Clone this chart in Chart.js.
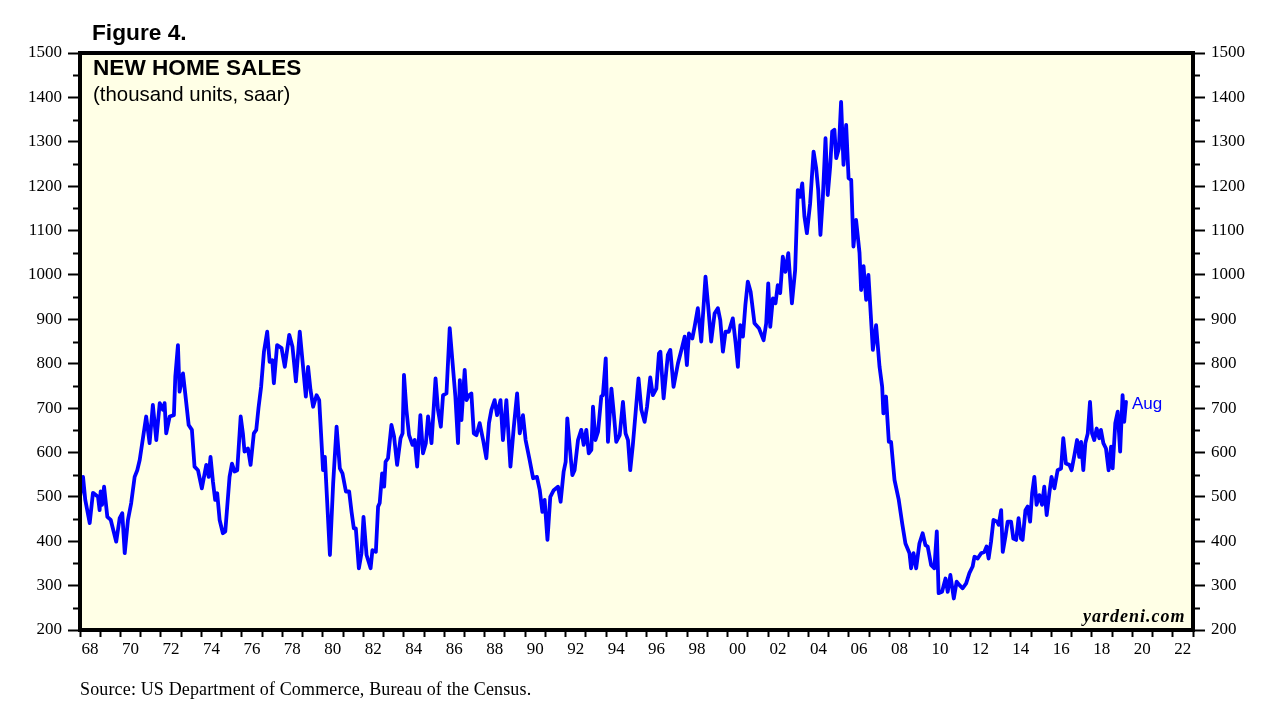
<!DOCTYPE html>
<html>
<head>
<meta charset="utf-8">
<title>New Home Sales</title>
<script src="https://cdn.jsdelivr.net/npm/chart.js@4.4.0/dist/chart.umd.min.js"></script>
<style>
    html, body { margin: 0; padding: 0; background: #ffffff; }
    #wrap { position: relative; width: 1277px; height: 704px; overflow: hidden; }
    #chart { position: absolute; left: 0; top: 0; }
    .txt { position: absolute; white-space: nowrap; line-height: 1; color: #000; }
    .sans { font-family: "Liberation Sans", Arial, sans-serif; }
    .serif { font-family: "Liberation Serif", "Times New Roman", serif; }
</style>
</head>
<body>
<div id="wrap">
    <canvas id="chart" width="1277" height="704"></canvas>
    <div class="txt sans" style="left:92px; top:21px; font-size:22.7px; font-weight:bold;">Figure 4.</div>
    <div class="txt sans" style="left:93px; top:57px; font-size:22.6px; font-weight:bold;">NEW HOME SALES</div>
    <div class="txt sans" style="left:93px; top:84px; font-size:20.4px;">(thousand units, saar)</div>
    <div class="txt sans" style="left:1132px; top:395px; font-size:17px; color:#0000ff;">Aug</div>
    <div class="txt serif" style="left:1083px; top:607px; font-size:18px; font-weight:bold; font-style:italic; letter-spacing:1px;">yardeni.com</div>
    <div class="txt serif" style="left:80px; top:680px; font-size:18px; letter-spacing:0.15px;">Source: US Department of Commerce, Bureau of the Census.</div>
</div>
<script>
// Monthly-ish readings: decimal year and thousand units (saar)
const saleDates = [
    1968.00, 1968.15, 1968.26, 1968.48, 1968.64, 1968.89, 1968.97, 1969.02, 1969.09, 1969.19,
    1969.35, 1969.52, 1969.79, 1969.96, 1970.09, 1970.21, 1970.37, 1970.53, 1970.70, 1970.83,
    1970.95, 1971.06, 1971.27, 1971.44, 1971.60, 1971.77, 1971.94, 1972.10, 1972.18, 1972.26,
    1972.43, 1972.64, 1972.71, 1972.84, 1972.92, 1973.09, 1973.20, 1973.37, 1973.53, 1973.66,
    1973.83, 1974.02, 1974.24, 1974.36, 1974.45, 1974.57, 1974.68, 1974.78, 1974.90, 1975.06,
    1975.18, 1975.39, 1975.51, 1975.64, 1975.77, 1975.94, 1976.05, 1976.13, 1976.30, 1976.43,
    1976.59, 1976.71, 1976.82, 1976.95, 1977.09, 1977.25, 1977.37, 1977.50, 1977.58, 1977.74,
    1977.96, 1978.12, 1978.34, 1978.50, 1978.67, 1978.86, 1979.00, 1979.16, 1979.27, 1979.39,
    1979.52, 1979.69, 1979.82, 1979.97, 1980.01, 1980.10, 1980.35, 1980.51, 1980.68, 1980.84,
    1980.97, 1981.14, 1981.30, 1981.42, 1981.53, 1981.63, 1981.78, 1981.91, 1982.01, 1982.16,
    1982.36, 1982.45, 1982.62, 1982.73, 1982.81, 1982.93, 1983.03, 1983.10, 1983.22, 1983.39,
    1983.52, 1983.67, 1983.84, 1983.94, 1984.01, 1984.13, 1984.26, 1984.43, 1984.54, 1984.66,
    1984.82, 1984.95, 1985.09, 1985.20, 1985.37, 1985.57, 1985.69, 1985.83, 1985.94, 1986.11,
    1986.27, 1986.40, 1986.55, 1986.68, 1986.77, 1986.85, 1987.01, 1987.10, 1987.22, 1987.34,
    1987.46, 1987.59, 1987.75, 1987.92, 1988.08, 1988.21, 1988.33, 1988.49, 1988.61, 1988.78,
    1988.90, 1989.07, 1989.27, 1989.43, 1989.60, 1989.73, 1989.89, 1990.02, 1990.22, 1990.39,
    1990.58, 1990.72, 1990.85, 1990.96, 1991.10, 1991.24, 1991.41, 1991.62, 1991.75, 1991.90,
    1992.00, 1992.08, 1992.20, 1992.33, 1992.44, 1992.61, 1992.77, 1992.89, 1993.02, 1993.14,
    1993.27, 1993.35, 1993.47, 1993.60, 1993.76, 1993.84, 1993.98, 1994.09, 1994.26, 1994.37,
    1994.50, 1994.67, 1994.83, 1994.96, 1995.08, 1995.19, 1995.32, 1995.46, 1995.60, 1995.74,
    1995.90, 1996.02, 1996.18, 1996.31, 1996.48, 1996.61, 1996.68, 1996.84, 1997.05, 1997.17,
    1997.33, 1997.55, 1997.76, 1997.88, 1997.99, 1998.09, 1998.26, 1998.37, 1998.53, 1998.70,
    1998.91, 1999.03, 1999.19, 1999.36, 1999.52, 1999.64, 1999.77, 1999.90, 2000.06, 2000.26,
    2000.40, 2000.51, 2000.63, 2000.76, 2000.88, 2001.00, 2001.14, 2001.33, 2001.55, 2001.78,
    2001.91, 2002.01, 2002.11, 2002.24, 2002.37, 2002.48, 2002.60, 2002.73, 2002.86, 2003.00,
    2003.18, 2003.34, 2003.47, 2003.59, 2003.69, 2003.80, 2003.92, 2004.08, 2004.25, 2004.38,
    2004.48, 2004.59, 2004.71, 2004.84, 2004.95, 2005.07, 2005.17, 2005.28, 2005.37, 2005.50,
    2005.61, 2005.73, 2005.86, 2005.98, 2006.11, 2006.22, 2006.35, 2006.52, 2006.60, 2006.72,
    2006.85, 2006.96, 2007.18, 2007.34, 2007.51, 2007.64, 2007.70, 2007.83, 2007.97, 2008.08,
    2008.25, 2008.46, 2008.63, 2008.79, 2008.99, 2009.07, 2009.19, 2009.32, 2009.48, 2009.64,
    2009.78, 2009.89, 2010.06, 2010.22, 2010.34, 2010.43, 2010.60, 2010.77, 2010.88, 2011.01,
    2011.18, 2011.32, 2011.46, 2011.62, 2011.79, 2011.95, 2012.11, 2012.20, 2012.36, 2012.53,
    2012.69, 2012.80, 2012.90, 2013.02, 2013.14, 2013.32, 2013.40, 2013.52, 2013.60, 2013.73,
    2013.84, 2014.01, 2014.12, 2014.26, 2014.38, 2014.50, 2014.58, 2014.72, 2014.83, 2014.95,
    2015.05, 2015.16, 2015.27, 2015.41, 2015.54, 2015.65, 2015.77, 2015.90, 2016.01, 2016.15,
    2016.31, 2016.48, 2016.59, 2016.72, 2016.89, 2017.00, 2017.14, 2017.27, 2017.38, 2017.47,
    2017.58, 2017.68, 2017.80, 2017.91, 2018.01, 2018.12, 2018.24, 2018.37, 2018.45, 2018.57,
    2018.70, 2018.83, 2018.95, 2019.03, 2019.16, 2019.28, 2019.40, 2019.52, 2019.60, 2019.69
];

const salesValues = [
    500, 545, 493, 441, 509, 500, 470, 512, 482, 523,
    455, 448, 399, 452, 463, 373, 448, 486, 545, 560,
    583, 617, 681, 621, 707, 628, 711, 696, 711, 643,
    681, 684, 771, 842, 737, 778, 733, 662, 651, 568,
    560, 519, 572, 545, 590, 534, 493, 508, 448, 418,
    422, 545, 575, 557, 560, 681, 643, 602, 609, 572,
    643, 651, 700, 748, 827, 872, 804, 808, 756, 842,
    835, 793, 865, 838, 760, 872, 804, 726, 793, 741,
    703, 729, 718, 594, 560, 590, 369, 530, 658, 564,
    553, 512, 512, 466, 429, 429, 339, 373, 455, 369,
    339, 380, 376, 478, 486, 553, 523, 579, 587, 662,
    636, 572, 632, 643, 775, 696, 639, 617, 628, 568,
    684, 598, 621, 681, 621, 767, 696, 658, 729, 733,
    880, 808, 726, 621, 763, 673, 786, 718, 729, 733,
    643, 639, 666, 628, 587, 666, 696, 718, 684, 718,
    628, 718, 568, 654, 733, 643, 684, 628, 583, 542,
    545, 515, 466, 493, 403, 500, 515, 523, 489, 557,
    579, 677, 613, 549, 560, 628, 651, 617, 651, 598,
    606, 703, 628, 647, 726, 729, 812, 624, 744, 692,
    624, 639, 714, 643, 628, 560, 617, 692, 767, 696,
    669, 703, 769, 729, 744, 823, 827, 722, 820, 831,
    748, 801, 838, 861, 797, 868, 857, 883, 925, 850,
    996, 936, 850, 913, 925, 898, 827, 872, 872, 902,
    846, 793, 887, 861, 932, 985, 962, 891, 880, 853,
    891, 981, 883, 947, 936, 977, 959, 1041, 1007, 1049,
    936, 1011, 1191, 1176, 1206, 1131, 1094, 1161, 1278, 1240,
    1191, 1090, 1176, 1308, 1180, 1244, 1323, 1327, 1263, 1285,
    1390, 1248, 1338, 1218, 1214, 1064, 1124, 1050, 966, 1020,
    944, 1000, 831, 887, 793, 748, 688, 726, 624, 624,
    538, 493, 440, 395, 373, 339, 373, 339, 395, 418,
    391, 388, 346, 339, 422, 283, 286, 316, 286, 324,
    271, 309, 301, 294, 305, 328, 343, 365, 361, 373,
    376, 388, 361, 399, 448, 444, 437, 470, 376, 410,
    444, 444, 406, 403, 452, 406, 403, 470, 478, 444,
    508, 545, 482, 504, 482, 523, 459, 508, 545, 519,
    560, 564, 632, 575, 572, 560, 594, 628, 590, 624,
    560, 621, 643, 714, 643, 628, 654, 632, 651, 621,
    609, 560, 613, 564, 666, 692, 602, 729, 669, 714
];

// Even-year labels under the x axis (68 ... 22)
const yearLabels = [
    '68', '70', '72', '74', '76', '78', '80', '82', '84', '86', '88', '90', '92', '94',
    '96', '98', '00', '02', '04', '06', '08', '10', '12', '14', '16', '18', '20', '22'
];

const firstYear = 1968;
const lastYear = 2023;
const yMin = 200;
const yMax = 1500;

const serifFont = { family: '"Liberation Serif", "Times New Roman", serif', size: 17 };

// Plot background, minor y ticks and the heavy frame around the plot
const framePlugin = {
    id: 'frame',
    beforeDraw(chart) {
        const { ctx, chartArea } = chart;
        ctx.save();
        ctx.fillStyle = '#ffffe6';
        ctx.fillRect(chartArea.left, chartArea.top, chartArea.right - chartArea.left, chartArea.bottom - chartArea.top);
        ctx.restore();
    },
    afterDraw(chart) {
        const { ctx, chartArea } = chart;
        const yScale = chart.scales.y;
        ctx.save();
        ctx.strokeStyle = '#000';
        ctx.lineWidth = 2;
        ctx.beginPath();
        for (let v = yMin + 50; v < yMax; v += 100) {
            const py = Math.round(yScale.getPixelForValue(v)) + 0.5;
            ctx.moveTo(chartArea.left - 7, py);
            ctx.lineTo(chartArea.left, py);
            ctx.moveTo(chartArea.right, py);
            ctx.lineTo(chartArea.right + 7, py);
        }
        ctx.stroke();
        ctx.lineWidth = 4;
        ctx.strokeRect(chartArea.left, chartArea.top, chartArea.right - chartArea.left, chartArea.bottom - chartArea.top);
        ctx.restore();
    }
};

function yAxis(position, width) {
    return {
        type: 'linear',
        position: position,
        min: yMin,
        max: yMax,
        border: { display: false },
        grid: {
            drawOnChartArea: false,
            drawTicks: true,
            tickLength: 12,
            tickWidth: 2,
            tickColor: '#000'
        },
        ticks: {
            stepSize: 100,
            padding: 6,
            color: '#000',
            font: serifFont,
            callback: (value) => String(value)
        },
        afterFit(scale) {
            scale.width = width;
        }
    };
}

const points = saleDates.map((d, i) => ({ x: d, y: salesValues[i] }));

new Chart(document.getElementById('chart'), {
    type: 'line',
    data: {
        datasets: [{
            label: 'New home sales',
            data: points,
            borderColor: '#0000ff',
            borderWidth: 3.8,
            borderJoinStyle: 'round',
            borderCapStyle: 'round',
            pointRadius: 0,
            tension: 0,
            fill: false,
            yAxisID: 'y'
        }]
    },
    options: {
        responsive: false,
        animation: false,
        events: [],
        layout: { padding: { top: 53, left: 0, right: 0, bottom: 0 } },
        plugins: {
            legend: { display: false },
            tooltip: { enabled: false },
            title: { display: false }
        },
        scales: {
            x: {
                type: 'linear',
                min: firstYear,
                max: lastYear,
                border: { display: false },
                grid: {
                    drawOnChartArea: false,
                    drawTicks: true,
                    tickLength: 7,
                    tickWidth: 2,
                    tickColor: '#000'
                },
                ticks: {
                    stepSize: 1,
                    autoSkip: false,
                    maxRotation: 0,
                    padding: 2,
                    labelOffset: 10,
                    color: '#000',
                    font: serifFont,
                    callback: (value) => {
                        const idx = (value - firstYear) / 2;
                        return Number.isInteger(idx) && idx < yearLabels.length ? yearLabels[idx] : '';
                    }
                },
                afterFit(scale) {
                    scale.height = 74;
                }
            },
            y: yAxis('left', 80),
            y2: yAxis('right', 84)
        }
    },
    plugins: [framePlugin]
});
</script>
</body>
</html>
